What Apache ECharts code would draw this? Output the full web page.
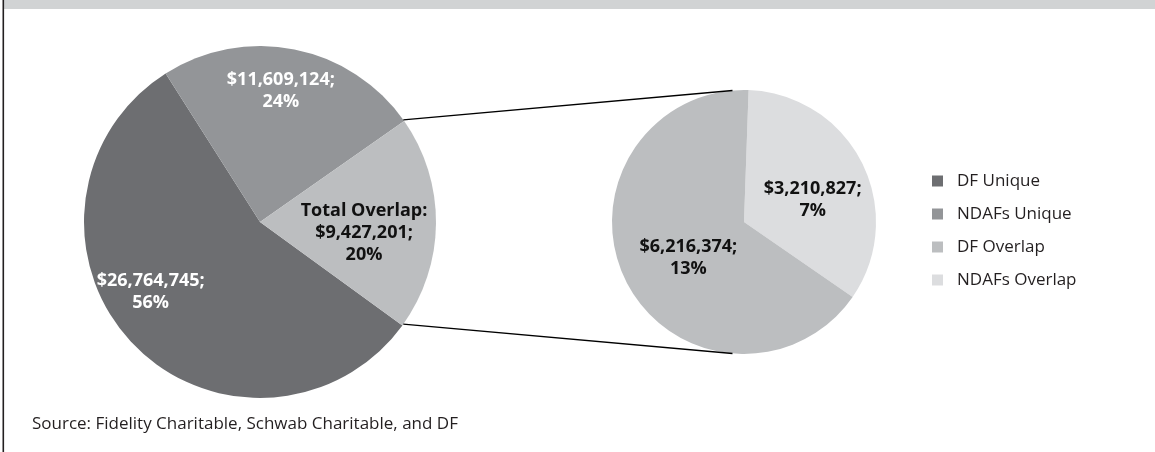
<!DOCTYPE html>
<html>
<head>
<meta charset="utf-8">
<script src="https://cdn.jsdelivr.net/npm/echarts@6/dist/echarts.min.js"></script>
<style>
  html, body { margin: 0; padding: 0; background: #ffffff; }
  #chart { width: 1155px; height: 452px; }
</style>
</head>
<body>
<div id="chart"></div>
<script>
// ---- data ----
const categories = ['DF Unique', 'NDAFs Unique', 'DF Overlap', 'NDAFs Overlap'];
const values = [26764745, 11609124, 6216374, 3210827];
const overlapName = 'Total Overlap';
const sourceText = 'Source: Fidelity Charitable, Schwab Charitable, and DF';

// ---- styles ----
const colors = ['#6d6e71', '#939598', '#bcbec0', '#dcdddf'];
const labelColors = ['#ffffff', '#ffffff', '#111111', '#111111'];
const labelOffsets = [[-43, 8], [3, -42], [6, 5], [7, 9]];
const overlapColor = '#bcbec0';
const overlapOffset = [13, 10];

const FONT = '"Open Sans", "Noto Sans", sans-serif';
const L = { cx: 260, cy: 222, r: 176, start: 324 };
const R = { cx: 744, cy: 222, r: 132, start: 88 };

const grandTotal = values.reduce((a, b) => a + b, 0);
const overlapTotal = values[2] + values[3];
const fmtMoney = v => '$' + v.toLocaleString('en-US') + ';';
const fmtPct = v => Math.round(v / grandTotal * 100) + '%';

function item(i) {
  return {
    name: categories[i],
    value: values[i],
    itemStyle: { color: colors[i] },
    label: { color: labelColors[i], offset: labelOffsets[i] }
  };
}

const leftData = [
  item(0),
  item(1),
  { name: overlapName, value: overlapTotal, itemStyle: { color: overlapColor },
    label: { color: '#111111', offset: overlapOffset } }
];
const rightData = [item(3), item(2)];

const labelBase = {
  show: true,
  position: 'inside',
  fontFamily: FONT,
  fontWeight: 'bold',
  fontSize: 18,
  lineHeight: 22,
  align: 'center',
  formatter: p => (p.name === overlapName ? overlapName + ':\n' : '') +
    fmtMoney(p.value) + '\n' + fmtPct(p.value)
};

function pt(c, deg) {
  const a = deg * Math.PI / 180;
  return [c.cx + c.r * Math.cos(a), c.cy - c.r * Math.sin(a)];
}
const halfOverlap = overlapTotal / grandTotal * 180;
const pA = pt(L, halfOverlap), pB = pt(L, -halfOverlap);
const qA = pt(R, 95), qB = pt(R, -95);

const chart = echarts.init(document.getElementById('chart'), null, { renderer: 'canvas' });
chart.setOption({
  animation: false,
  backgroundColor: '#ffffff',
  legend: {
    data: categories,
    orient: 'vertical',
    left: 927,
    top: 166,
    icon: 'rect',
    itemWidth: 11,
    itemHeight: 11,
    itemGap: 13,
    selectedMode: false,
    textStyle: { fontFamily: FONT, fontSize: 17, lineHeight: 20, color: '#231f20', padding: [0, 0, 0, 9] }
  },
  graphic: [
    { type: 'rect', shape: { x: 4, y: 0, width: 1151, height: 9 }, style: { fill: '#d1d3d4' }, z: 0 },
    { type: 'rect', shape: { x: 2.5, y: 0, width: 1.6, height: 452 }, style: { fill: '#231f20' }, z: 0 },
    { type: 'line', shape: { x1: pA[0], y1: pA[1], x2: qA[0], y2: qA[1] }, style: { stroke: '#000', lineWidth: 1.3 }, z: 10 },
    { type: 'line', shape: { x1: pB[0], y1: pB[1], x2: qB[0], y2: qB[1] }, style: { stroke: '#000', lineWidth: 1.3 }, z: 10 },
    { type: 'text', left: 32, top: 416, style: { text: sourceText, font: '17px ' + FONT, fill: '#231f20' } }
  ],
  series: [
    {
      type: 'pie', name: 'main', center: [L.cx, L.cy], radius: L.r,
      startAngle: L.start, clockwise: true, silent: true,
      label: labelBase, labelLine: { show: false },
      itemStyle: { borderWidth: 0 },
      data: leftData
    },
    {
      type: 'pie', name: 'overlap', center: [R.cx, R.cy], radius: R.r,
      startAngle: R.start, clockwise: true, silent: true,
      label: labelBase, labelLine: { show: false },
      itemStyle: { borderWidth: 0 },
      data: rightData
    }
  ]
});
</script>
</body>
</html>
